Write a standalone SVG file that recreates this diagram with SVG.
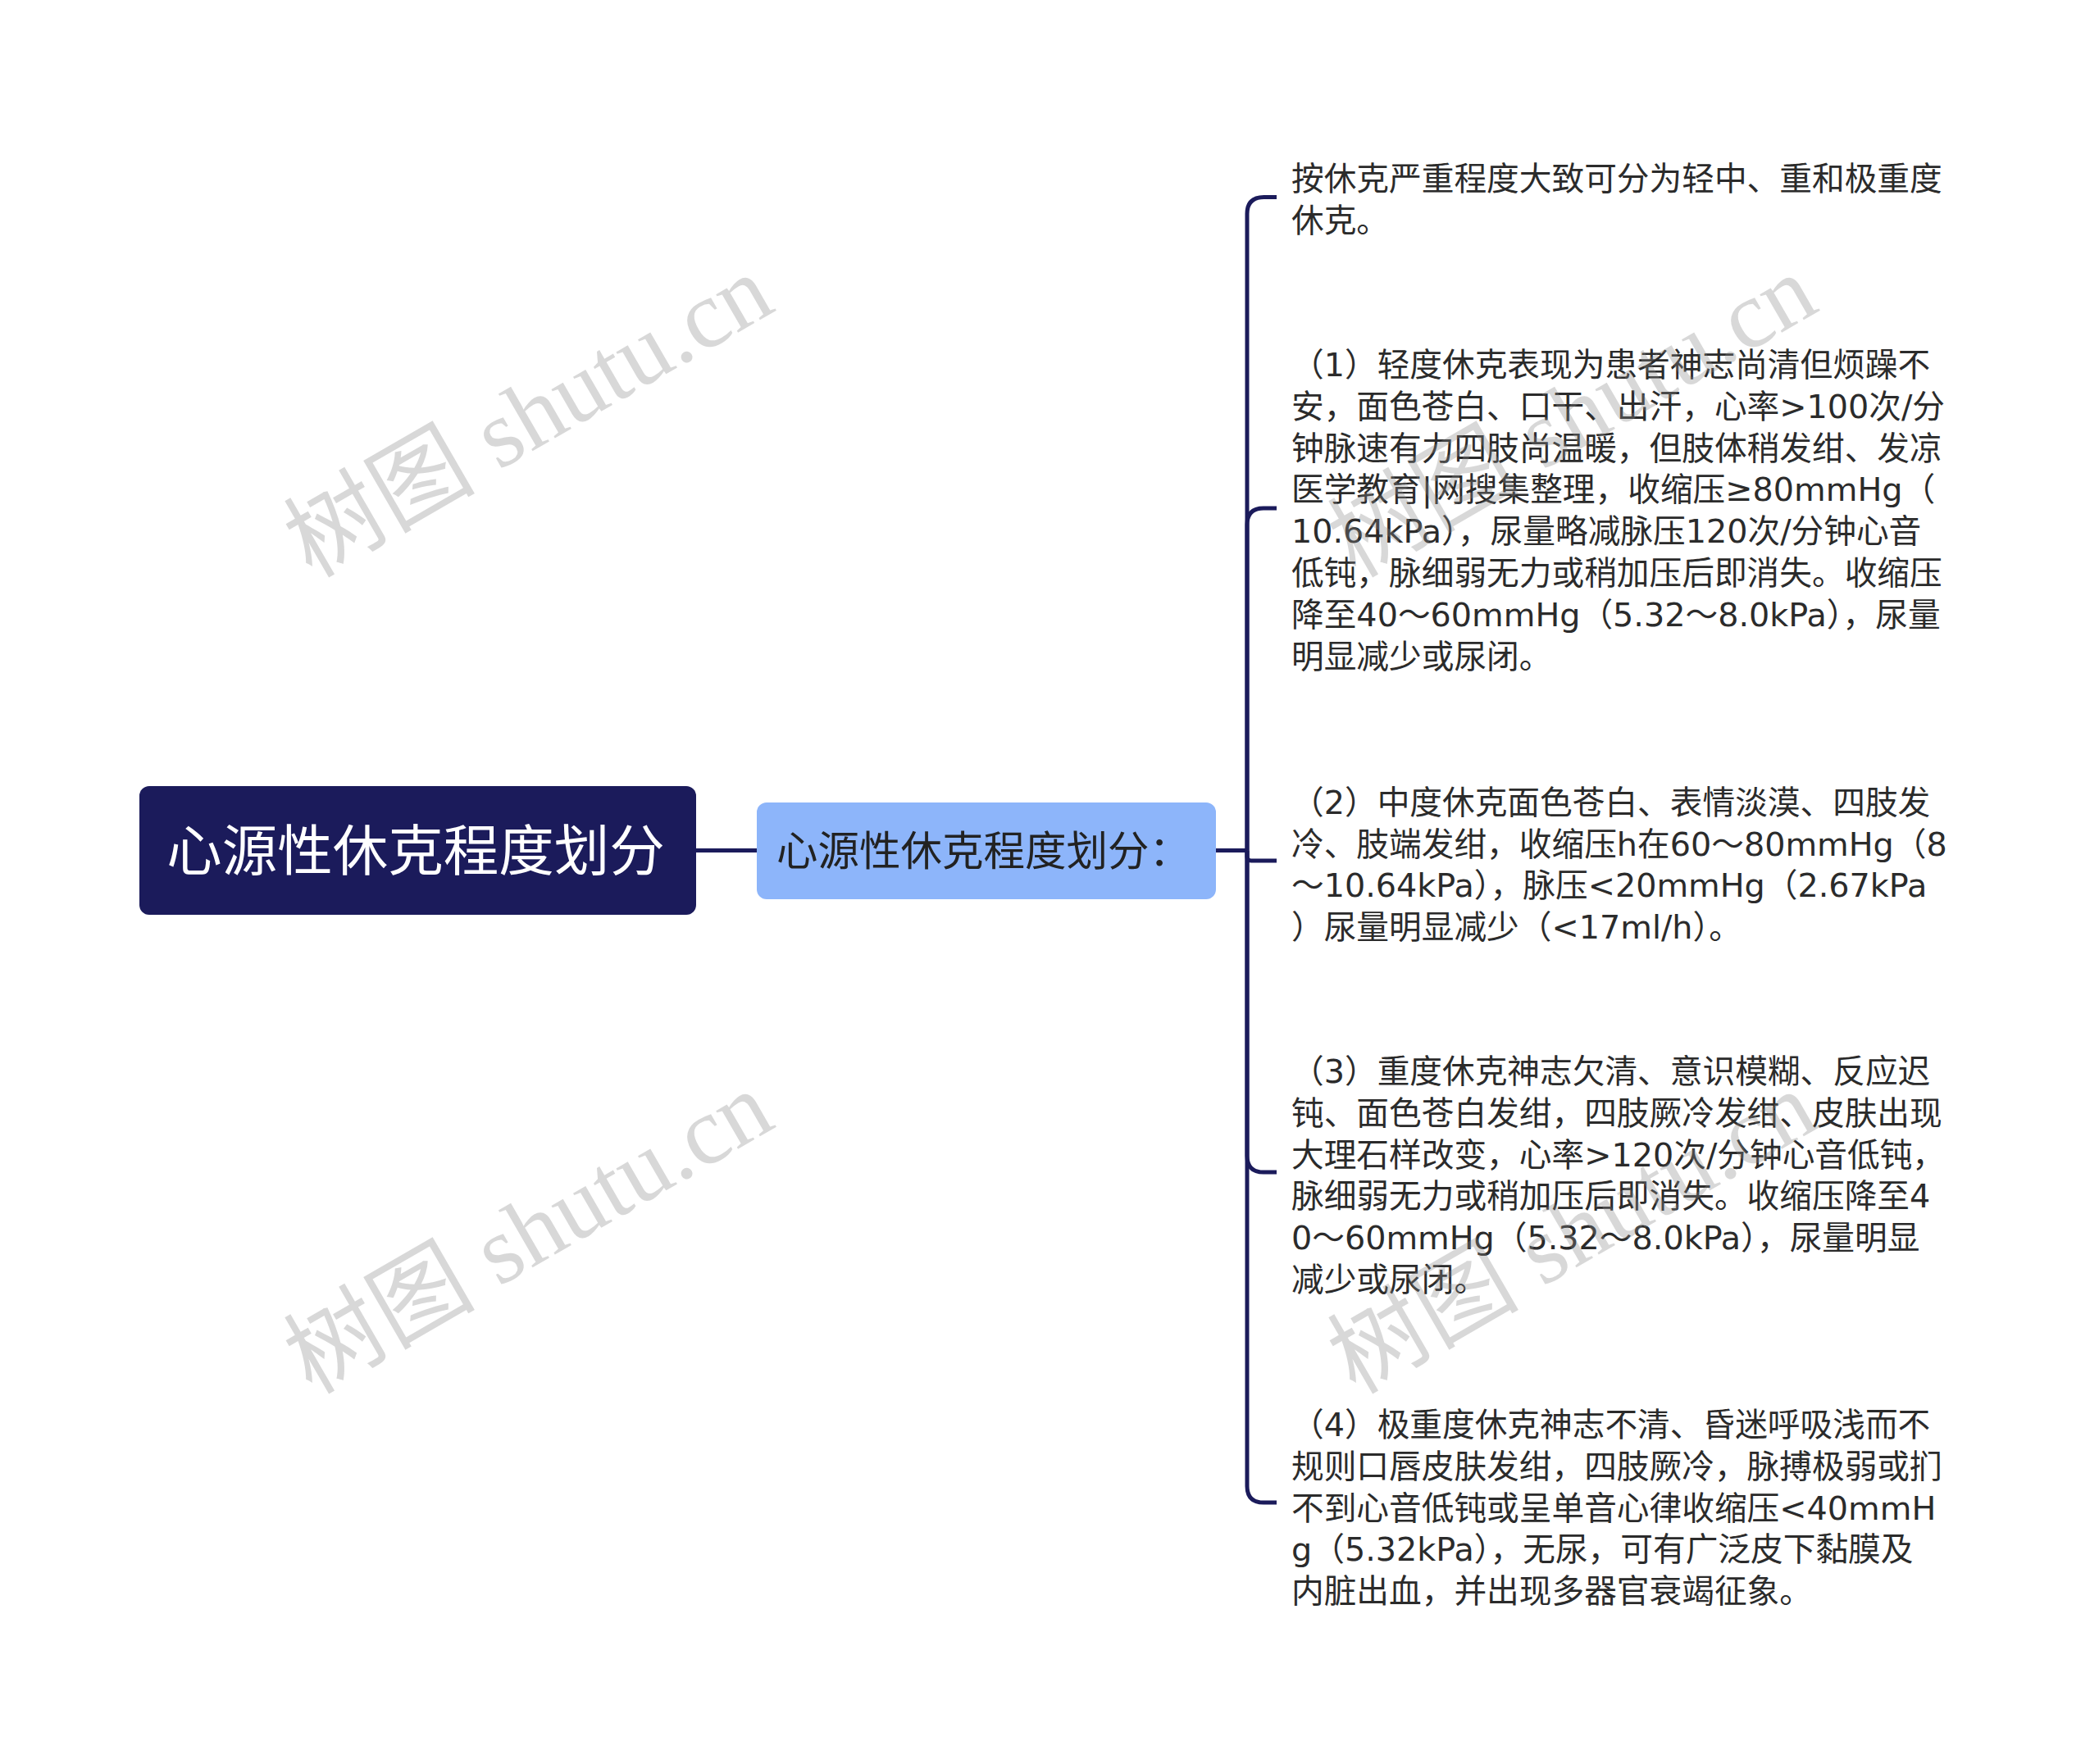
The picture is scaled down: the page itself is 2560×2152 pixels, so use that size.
<svg xmlns="http://www.w3.org/2000/svg" width="2560" height="2152" viewBox="0 0 2560 2152">
<style>
.conn{fill:none;stroke:#1b1b5b;stroke-width:5;}
.leaf{font-family:"DejaVu Sans","Noto Sans CJK SC",sans-serif;font-size:39.7px;fill:#2b2b2b;}
.wm{font-family:"Liberation Serif","Noto Sans CJK SC",serif;font-size:117px;fill:#8a8a8a;fill-opacity:0.33;}
</style>
<rect x="0" y="0" width="2560" height="2152" fill="#ffffff"/>
<g id="connectors">
<path class="conn" d="M849 1037.5 H923"/>
<path class="conn" d="M1483 1037.5 H1521"/>
<path class="conn" d="M1521 1037.5 V261 Q1521 240.5 1541.5 240.5 H1557"/>
<path class="conn" d="M1521 1037.5 V640 Q1521 620 1541 620 H1557"/>
<path class="conn" d="M1521 1037.5 V1045 Q1521 1050 1526 1050 H1557"/>
<path class="conn" d="M1521 1037.5 V1410 Q1521 1430 1541 1430 H1557"/>
<path class="conn" d="M1521 1037.5 V1813 Q1521 1833 1541 1833 H1557"/>
</g>
<g id="root">
<rect x="170" y="959" width="679" height="157" rx="12" fill="#1b1b5b"/>
<text x="507" y="1062" text-anchor="middle" font-family="Noto Sans CJK SC, sans-serif" font-size="67.5" fill="#ffffff">心源性休克程度划分</text>
</g>
<g id="child">
<rect x="923" y="979" width="560" height="118" rx="12" fill="#8db5fa"/>
<text x="947" y="1056" font-family="Noto Sans CJK SC, sans-serif" font-size="50.5" fill="#222222">心源性休克程度划分：</text>
</g>
<g id="leaf0">
<text class="leaf" x="1575" y="232">按休克严重程度大致可分为轻中、重和极重度</text>
<text class="leaf" x="1575" y="283">休克。</text>
</g>
<g id="leaf1">
<text class="leaf" x="1575" y="459">（1）轻度休克表现为患者神志尚清但烦躁不</text>
<text class="leaf" x="1575" y="510">安，面色苍白、口干、出汗，心率&gt;100次/分</text>
<text class="leaf" x="1575" y="561">钟脉速有力四肢尚温暖，但肢体稍发绀、发凉</text>
<text class="leaf" x="1575" y="611">医学教育|网搜集整理，收缩压≥80mmHg（</text>
<text class="leaf" x="1575" y="662">10.64kPa），尿量略减脉压120次/分钟心音</text>
<text class="leaf" x="1575" y="713">低钝，脉细弱无力或稍加压后即消失。收缩压</text>
<text class="leaf" x="1575" y="764">降至40～60mmHg（5.32～8.0kPa），尿量</text>
<text class="leaf" x="1575" y="815">明显减少或尿闭。</text>
</g>
<g id="leaf2">
<text class="leaf" x="1575" y="993">（2）中度休克面色苍白、表情淡漠、四肢发</text>
<text class="leaf" x="1575" y="1044">冷、肢端发绀，收缩压h在60～80mmHg（8</text>
<text class="leaf" x="1575" y="1094">～10.64kPa），脉压&lt;20mmHg（2.67kPa</text>
<text class="leaf" x="1575" y="1145">）尿量明显减少（&lt;17ml/h）。</text>
</g>
<g id="leaf3">
<text class="leaf" x="1575" y="1321">（3）重度休克神志欠清、意识模糊、反应迟</text>
<text class="leaf" x="1575" y="1372">钝、面色苍白发绀，四肢厥冷发绀、皮肤出现</text>
<text class="leaf" x="1575" y="1423">大理石样改变，心率&gt;120次/分钟心音低钝，</text>
<text class="leaf" x="1575" y="1473">脉细弱无力或稍加压后即消失。收缩压降至4</text>
<text class="leaf" x="1575" y="1524">0～60mmHg（5.32～8.0kPa），尿量明显</text>
<text class="leaf" x="1575" y="1575">减少或尿闭。</text>
</g>
<g id="leaf4">
<text class="leaf" x="1575" y="1752">（4）极重度休克神志不清、昏迷呼吸浅而不</text>
<text class="leaf" x="1575" y="1803">规则口唇皮肤发绀，四肢厥冷，脉搏极弱或扪</text>
<text class="leaf" x="1575" y="1854">不到心音低钝或呈单音心律收缩压&lt;40mmH</text>
<text class="leaf" x="1575" y="1904">g（5.32kPa），无尿，可有广泛皮下黏膜及</text>
<text class="leaf" x="1575" y="1955">内脏出血，并出现多器官衰竭征象。</text>
</g>
<g id="watermarks">
<text class="wm" transform="translate(380 706) rotate(-30)">树图 shutu.cn</text>
<text class="wm" transform="translate(380 1702) rotate(-30)">树图 shutu.cn</text>
<text class="wm" transform="translate(1653 706) rotate(-30)">树图 shutu.cn</text>
<text class="wm" transform="translate(1653 1702) rotate(-30)">树图 shutu.cn</text>
</g>
</svg>
